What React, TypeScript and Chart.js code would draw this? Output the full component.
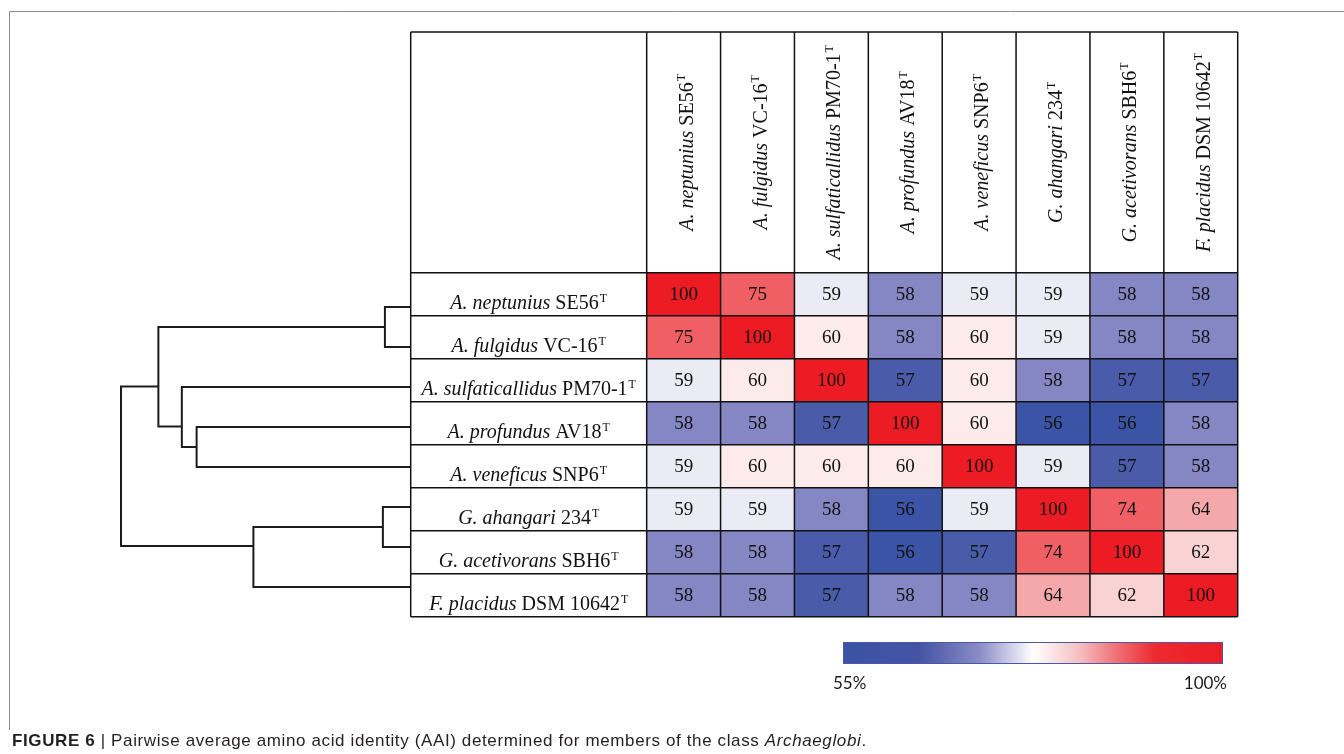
import React, { useEffect, useRef } from 'react';
import { Chart, registerables } from 'chart.js';

Chart.register(...registerables);

// ---------- data ----------
const speciesItalic = [
  'A. neptunius',
  'A. fulgidus',
  'A. sulfaticallidus',
  'A. profundus',
  'A. veneficus',
  'G. ahangari',
  'G. acetivorans',
  'F. placidus',
];
const strainNames = ['SE56', 'VC-16', 'PM70-1', 'AV18', 'SNP6', '234', 'SBH6', 'DSM 10642'];
const typeStrainMark = 'T';

const aaiRow0 = [100, 75, 59, 58, 59, 59, 58, 58];
const aaiRow1 = [75, 100, 60, 58, 60, 59, 58, 58];
const aaiRow2 = [59, 60, 100, 57, 60, 58, 57, 57];
const aaiRow3 = [58, 58, 57, 100, 60, 56, 56, 58];
const aaiRow4 = [59, 60, 60, 60, 100, 59, 57, 58];
const aaiRow5 = [59, 59, 58, 56, 59, 100, 74, 64];
const aaiRow6 = [58, 58, 57, 56, 57, 74, 100, 62];
const aaiRow7 = [58, 58, 57, 58, 58, 64, 62, 100];
const aaiMatrix = [aaiRow0, aaiRow1, aaiRow2, aaiRow3, aaiRow4, aaiRow5, aaiRow6, aaiRow7];

// colour scale used for the cells (value -> colour)
const cellScaleValues = [56, 57, 58, 59, 60, 62, 64, 74, 75, 100];
const cellScaleColors = ['#3B54A5', '#4A5BAA', '#8487C3', '#EBEBF5', '#FDEBEC', '#F9D3D4', '#F4A8AA', '#EF5F64', '#EF5F64', '#ED1C24'];

// colour bar legend
const colorBarStops = [0, 0.2, 0.36, 0.5, 0.62, 0.72, 0.82, 1];
const colorBarColors = ['#3A53A4', '#4454A5', '#8A8CC6', '#FFFFFF', '#F6C0C2', '#EE7177', '#ED2A30', '#ED1C24'];
const colorBarTickLabels = ['55%', '100%'];

// dendrogram: leaf positions (in leaf order) and merges (height in relative distance units)
const dendroLeafPos = [0, 1, 2, 3, 4, 5, 6, 7];
const dendroMerges = [
  { a: 'L0', b: 'L1', height: 0.089, pos: 0.5 },
  { a: 'L3', b: 'L4', height: 0.739, pos: 3.5 },
  { a: 'L2', b: 'N1', height: 0.79, pos: 2.99 },
  { a: 'N0', b: 'N2', height: 0.871, pos: 1.99 },
  { a: 'L5', b: 'L6', height: 0.096, pos: 5.5 },
  { a: 'N4', b: 'L7', height: 0.543, pos: 5.975 },
  { a: 'N3', b: 'N5', height: 1.0, pos: 3.9 },
];

// ---------- helpers ----------
function hexToRgb(h: string) {
  const n = parseInt(h.slice(1), 16);
  return [(n >> 16) & 255, (n >> 8) & 255, n & 255];
}
function cellColor(v: number) {
  const idx = cellScaleValues.indexOf(v);
  if (idx >= 0) return cellScaleColors[idx];
  for (let i = 0; i < cellScaleValues.length - 1; i++) {
    const a = cellScaleValues[i];
    const b = cellScaleValues[i + 1];
    if (v >= a && v <= b) {
      const t = (v - a) / (b - a);
      const ca = hexToRgb(cellScaleColors[i]);
      const cb = hexToRgb(cellScaleColors[i + 1]);
      const c = ca.map((x, k) => Math.round(x + (cb[k] - x) * t));
      return `rgb(${c[0]},${c[1]},${c[2]})`;
    }
  }
  return v < cellScaleValues[0] ? cellScaleColors[0] : cellScaleColors[cellScaleColors.length - 1];
}

const SERIF = '"Liberation Serif", "Times New Roman", serif';
const FS = 20;
const NUM_FS = 19;
const SUP = 12;

function richWidth(ctx: CanvasRenderingContext2D, i: number) {
  ctx.font = `italic ${FS}px ${SERIF}`;
  const w1 = ctx.measureText(speciesItalic[i] + ' ').width;
  ctx.font = `${FS}px ${SERIF}`;
  const w2 = ctx.measureText(strainNames[i]).width;
  ctx.font = `${SUP}px ${SERIF}`;
  const w3 = ctx.measureText(typeStrainMark).width;
  return [w1, w2, w3];
}

function drawRich(ctx: CanvasRenderingContext2D, i: number, cx: number, baseline: number) {
  const [w1, w2, w3] = richWidth(ctx, i);
  let x = cx - (w1 + w2 + w3 + 1) / 2;
  ctx.textAlign = 'left';
  ctx.textBaseline = 'alphabetic';
  ctx.font = `italic ${FS}px ${SERIF}`;
  ctx.fillText(speciesItalic[i] + ' ', x, baseline);
  x += w1;
  ctx.font = `${FS}px ${SERIF}`;
  ctx.fillText(strainNames[i], x, baseline);
  x += w2 + 1;
  ctx.font = `${SUP}px ${SERIF}`;
  ctx.fillText(typeStrainMark, x, baseline - 7.5);
}

const TABLE_TOP = 32;

const tablePlugin = {
  id: 'aaiTable',
  beforeDraw(chart: any) {
    const ctx = chart.ctx as CanvasRenderingContext2D;
    ctx.save();
    ctx.fillStyle = '#ffffff';
    ctx.fillRect(0, 0, chart.width, chart.height);
    // figure frame
    ctx.strokeStyle = '#8c8c8c';
    ctx.lineWidth = 1;
    ctx.beginPath();
    ctx.moveTo(9.5, 730);
    ctx.lineTo(9.5, 11.5);
    ctx.lineTo(chart.width, 11.5);
    ctx.stroke();
    ctx.restore();
  },
  afterDatasetsDraw(chart: any) {
    const ctx = chart.ctx as CanvasRenderingContext2D;
    const xs = chart.scales.x;
    const xd = chart.scales.xd;
    const ys = chart.scales.y;
    const area = chart.chartArea;
    const n = speciesItalic.length;
    const left = xd.getPixelForValue(0);
    const right = xs.getPixelForValue(n);
    const band = (area.bottom - area.top) / n;
    ctx.save();

    // numbers
    ctx.fillStyle = '#111';
    ctx.font = `${NUM_FS}px ${SERIF}`;
    ctx.textAlign = 'center';
    ctx.textBaseline = 'middle';
    aaiMatrix.forEach((row, r) => {
      const cy = ys.getPixelForValue(r);
      row.forEach((v, c) => {
        ctx.fillText(String(v), xs.getPixelForValue(c + 0.5), cy + 1);
      });
    });

    // grid lines
    ctx.strokeStyle = '#111';
    ctx.lineWidth = 1.5;
    ctx.beginPath();
    ctx.moveTo(left, TABLE_TOP);
    ctx.lineTo(right, TABLE_TOP);
    for (let r = 0; r <= n; r++) {
      const y = area.top + r * band;
      ctx.moveTo(left, y);
      ctx.lineTo(right, y);
    }
    ctx.moveTo(left, TABLE_TOP);
    ctx.lineTo(left, area.bottom);
    for (let c = 0; c <= n; c++) {
      const x = xs.getPixelForValue(c);
      ctx.moveTo(x, TABLE_TOP);
      ctx.lineTo(x, area.bottom);
    }
    ctx.stroke();

    // row labels
    ctx.fillStyle = '#111';
    const labelCx = (left + xs.getPixelForValue(0)) / 2;
    for (let r = 0; r < n; r++) {
      drawRich(ctx, r, labelCx, ys.getPixelForValue(r) + 15);
    }

    // column headers (rotated)
    const headCy = (TABLE_TOP + area.top) / 2;
    for (let c = 0; c < n; c++) {
      const cx = xs.getPixelForValue(c + 0.5);
      ctx.save();
      ctx.translate(cx + 9, headCy);
      ctx.rotate(-Math.PI / 2);
      drawRich(ctx, c, 0, 0);
      ctx.restore();
    }

    // colour bar
    const bx0 = 843;
    const bx1 = 1223;
    const by0 = 642;
    const by1 = 664;
    const grad = ctx.createLinearGradient(bx0, 0, bx1, 0);
    colorBarStops.forEach((s, i) => grad.addColorStop(s, colorBarColors[i]));
    ctx.fillStyle = grad;
    ctx.fillRect(bx0, by0, bx1 - bx0, by1 - by0);
    ctx.strokeStyle = '#4a5aa0';
    ctx.lineWidth = 1;
    ctx.strokeRect(bx0 + 0.5, by0 + 0.5, bx1 - bx0 - 1, by1 - by0 - 1);
    ctx.fillStyle = '#1a1a1a';
    ctx.font = '17px Lato, "Open Sans", sans-serif';
    ctx.textBaseline = 'middle';
    ctx.textAlign = 'left';
    ctx.fillText(colorBarTickLabels[0], 833, 684);
    ctx.textAlign = 'right';
    ctx.fillText(colorBarTickLabels[1], 1227, 684);

    ctx.restore();
  },
};

function nodeRef(key: string) {
  const idx = parseInt(key.slice(1), 10);
  if (key[0] === 'L') return { h: 0, p: dendroLeafPos[idx] };
  return { h: dendroMerges[idx].height, p: dendroMerges[idx].pos };
}

export default function App() {
  const canvasRef = useRef<HTMLCanvasElement | null>(null);

  useEffect(() => {
    const canvas = canvasRef.current;
    if (!canvas) return;
    const n = speciesItalic.length;

    const cellDatasets = Array.from({ length: n }, (_, c) => ({
      type: 'bar' as const,
      label: `${speciesItalic[c]} ${strainNames[c]}`,
      indexAxis: 'y' as const,
      xAxisID: 'x',
      yAxisID: 'y',
      data: aaiMatrix.map(() => [c, c + 1]),
      backgroundColor: aaiMatrix.map((row) => cellColor(row[c])),
      borderWidth: 0,
      grouped: false,
      barPercentage: 1,
      categoryPercentage: 1,
    }));

    const dendroDatasets = dendroMerges.map((m, i) => {
      const a = nodeRef(m.a);
      const b = nodeRef(m.b);
      return {
        type: 'line' as const,
        label: `node ${i}`,
        xAxisID: 'xd',
        yAxisID: 'yd',
        data: [
          { x: a.h, y: a.p },
          { x: m.height, y: a.p },
          { x: m.height, y: b.p },
          { x: b.h, y: b.p },
        ],
        borderColor: '#1c1c1c',
        borderWidth: 2,
        pointRadius: 0,
        fill: false,
        tension: 0,
        borderJoinStyle: 'miter' as const,
      };
    });

    const chart = new Chart(canvas, {
      type: 'bar',
      data: {
        labels: speciesItalic.map((s, i) => `${s} ${strainNames[i]}`),
        datasets: [...cellDatasets, ...dendroDatasets] as any,
      },
      plugins: [tablePlugin],
      options: {
        responsive: false,
        animation: false,
        layout: { padding: { left: 100, right: 106.3, top: 272.7, bottom: 137.3 } },
        plugins: { legend: { display: false }, tooltip: { enabled: false } },
        scales: {
          x: { type: 'linear', axis: 'x', min: -7.4, max: 8, offset: false, display: false },
          y: { type: 'category', axis: 'y', offset: true, display: false },
          xd: { type: 'linear', axis: 'x', min: -2.8547, max: 1.0725, reverse: true, offset: false, display: false },
          yd: { type: 'linear', axis: 'y', min: -0.8575, max: 7.7425, reverse: true, offset: false, display: false },
        },
      } as any,
    });
    return () => chart.destroy();
  }, []);

  return (
    <div style={{ position: 'absolute', left: 0, top: 0, width: 1344, height: 754, background: '#fff', overflow: 'hidden' }}>
      <canvas ref={canvasRef} width={1344} height={754} style={{ display: 'block' }} />
      <div
        style={{
          position: 'absolute',
          left: 12,
          top: 731,
          fontFamily: '"Liberation Sans", Arial, sans-serif',
          fontSize: 17,
          letterSpacing: '0.62px',
          color: '#231f20',
          whiteSpace: 'nowrap',
        }}
      >
        <b>FIGURE 6</b> | Pairwise average amino acid identity (AAI) determined for members of the class <i>Archaeglobi</i>.
      </div>
    </div>
  );
}
